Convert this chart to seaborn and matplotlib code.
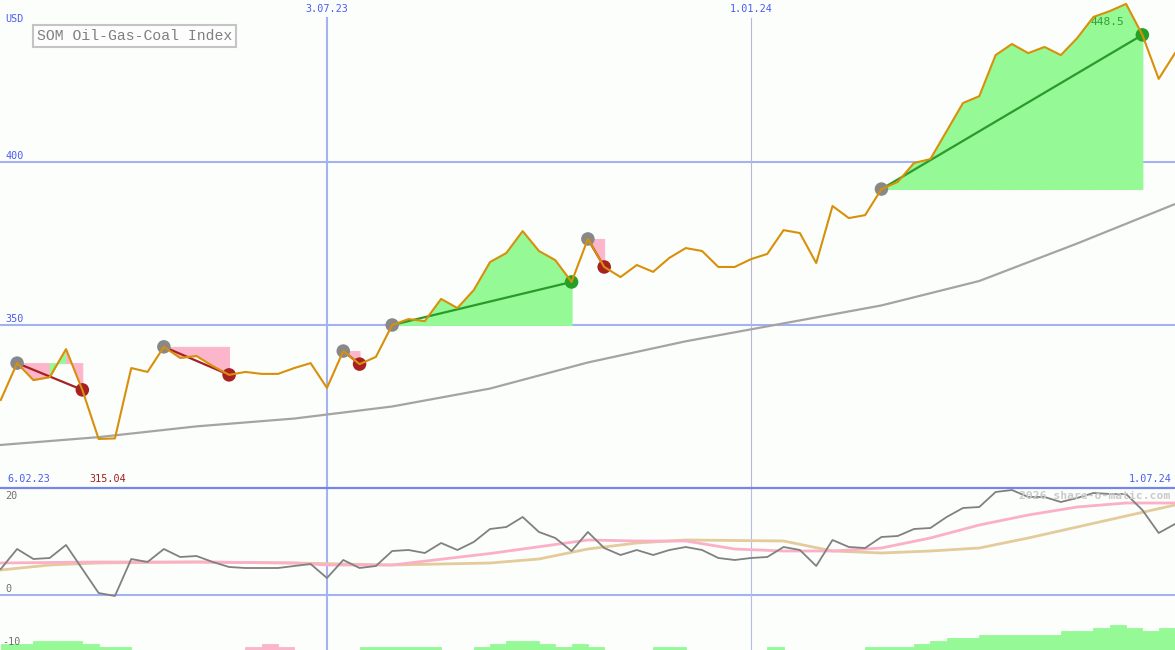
import pandas as pd
import matplotlib
matplotlib.use('Agg')
import matplotlib.pyplot as plt
import seaborn as sns

# weekly closes, 13.02.23 .. 1.07.24
dates = pd.date_range('2023-02-13', periods=73, freq='7D')
price = [327.0, 338.3, 333.1, 334.0, 342.6, 330.1, 315.04, 315.2, 336.8, 335.6,
         343.3, 339.9, 340.5, 337.4, 334.7, 335.6, 335.0, 335.0, 336.8, 338.3,
         330.7, 342.0, 338.0, 340.2, 350.0, 351.8, 351.2, 358.0, 355.2, 360.7,
         369.3, 372.1, 378.8, 372.7, 369.9, 363.2, 376.4, 367.8, 364.7, 368.4,
         366.3, 370.6, 373.6, 372.7, 367.8, 367.8, 370.2, 371.8, 379.1, 378.2,
         369.0, 386.5, 382.8, 383.7, 391.7, 393.9, 399.7, 400.9, 409.5, 418.1,
         420.2, 432.8, 436.2, 433.4, 435.3, 432.8, 438.0, 444.5, 446.3, 448.5,
         439.0, 425.5, 433.4]

# long moving average (read every 6 weeks)
ma_idx = [0, 6, 12, 18, 24, 30, 36, 42, 48, 54, 60, 66, 72]
ma_val = [313.2, 315.6, 318.9, 321.3, 325.0, 330.5, 338.5, 345.0, 350.5, 356.0, 363.5, 375.0, 387.1]

# trades
entry_idx = [1, 10, 21, 24, 36, 54]
exit_idx = [5, 14, 22, 35, 37, 70]

# lower panel
osc = [5.2, 9.2, 7.2, 7.4, 10.0, 5.2, 0.4, -0.2, 7.2, 6.6,
       9.2, 7.6, 7.8, 6.6, 5.6, 5.4, 5.4, 5.4, 5.8, 6.2,
       3.4, 7.0, 5.4, 5.8, 8.8, 9.0, 8.4, 10.4, 9.0, 10.6,
       13.2, 13.6, 15.6, 12.6, 11.4, 8.8, 12.6, 9.4, 8.0, 9.0,
       8.0, 9.0, 9.6, 9.0, 7.4, 7.0, 7.4, 7.6, 9.6, 9.0,
       5.8, 11.0, 9.6, 9.4, 11.6, 11.8, 13.2, 13.4, 15.6, 17.4,
       17.6, 20.6, 21.0, 19.6, 19.6, 18.6, 19.4, 20.4, 20.2, 20.2,
       17.0, 12.4, 14.2]
pink_idx = [0, 6, 12, 18, 20, 24, 30, 36, 39, 42, 45, 48, 51, 54, 57, 60, 63, 66, 69, 72]
pink_val = [6.4, 6.6, 6.6, 6.4, 6.0, 6.0, 8.3, 11.0, 10.8, 10.8, 9.2, 8.8, 8.8, 9.4, 11.4, 14.0, 16.0, 17.6, 18.4, 18.4]
tan_idx = [0, 3, 6, 12, 18, 24, 30, 33, 36, 39, 42, 48, 51, 54, 57, 60, 63, 66, 69, 72]
tan_val = [5.0, 6.0, 6.4, 6.6, 6.4, 6.0, 6.4, 7.2, 9.2, 10.4, 11.0, 10.8, 8.8, 8.4, 8.8, 9.4, 11.4, 13.6, 15.8, 18.0]
hist = [1.2, 1.2, 1.8, 1.8, 1.8, 1.2, 0.6, 0.6,
        0, 0, 0, 0, 0, 0, 0,
        -0.6, -1.2, -0.6,
        0, 0, 0, 0,
        0.6, 0.6, 0.6, 0.6, 0.6,
        0, 0,
        0.6, 1.2, 1.8, 1.8, 1.2, 0.6, 1.2, 0.6,
        0, 0, 0,
        0.6, 0.6,
        0, 0, 0, 0, 0,
        0.6,
        0, 0, 0, 0, 0,
        0.6, 0.6, 0.6, 1.2, 1.8, 2.4, 2.4, 3.0, 3.0, 3.0, 3.0, 3.0,
        3.8, 3.8, 4.4, 5.0, 4.4, 3.8, 4.4]

bg = '#fcfefc'
grid_c = '#a3b2f2'
blue_txt = '#4a5cf0'
mono = 'DejaVu Sans Mono'

df = pd.DataFrame({'date': dates, 'price': price, 'osc': osc})
df_ma = pd.DataFrame({'date': dates[ma_idx], 'ma': ma_val})
df_pink = pd.DataFrame({'date': dates[pink_idx], 'v': pink_val})
df_tan = pd.DataFrame({'date': dates[tan_idx], 'v': tan_val})

fig = plt.figure(figsize=(11.75, 6.5), dpi=100, facecolor=bg)
ax = fig.add_axes([0, 163 / 650, 1, 487 / 650])
ax2 = fig.add_axes([0, 0, 1, 163 / 650])
xlim = (dates[0] - pd.Timedelta(hours=8), dates[-1])
for a in (ax, ax2):
    a.set_facecolor(bg)
    a.set_xlim(xlim)
    for s in a.spines.values():
        s.set_visible(False)
    a.set_xticks([])
    a.set_yticks([])
ax.set_ylim(300.3, 449.7)
ax2.set_ylim(-11.0, 21.6)

# grid
for lvl in (400, 350):
    ax.axhline(lvl, color=grid_c, lw=1.5, zorder=1)
ax2.axhline(0, color=grid_c, lw=1.5, zorder=1)
ax.axvline(pd.Timestamp('2023-07-03'), ymax=1 - 18 / 487, color=grid_c, lw=1.5, zorder=1)
ax.axvline(pd.Timestamp('2024-01-01'), ymax=1 - 18 / 487, color='#b4b8d4', lw=0.8, zorder=1)
ax2.axvline(pd.Timestamp('2023-07-03'), color=grid_c, lw=1.5, zorder=1)
ax2.axvline(pd.Timestamp('2024-01-01'), color='#b4bce8', lw=0.8, zorder=1)
ax2.axhline(21.45, color='#7686e8', lw=1.6, clip_on=False, zorder=5)

# trade fills
for e, x in zip(entry_idx, exit_idx):
    lvl = price[e]
    for j in range(e, x):
        c = '#95f995' if price[j + 1] >= lvl else '#fbb6cb'
        ax.fill_between(dates[j:j + 2], price[j:j + 2], [lvl, lvl], facecolor=c,
                        edgecolor=c, lw=0.7, zorder=2)

sns.lineplot(data=df_ma, x='date', y='ma', ax=ax, color='#a4a4a4', lw=1.6, zorder=3)

# trade lines and dots
for e, x in zip(entry_idx, exit_idx):
    win = price[x] > price[e]
    lc = '#2a9a2a' if win else '#a52222'
    ax.plot([dates[e], dates[x]], [price[e], price[x]], color=lc, lw=1.6, zorder=4)
pts = pd.DataFrame({
    'date': list(dates[entry_idx]) + list(dates[exit_idx]),
    'p': [price[i] for i in entry_idx] + [price[i] for i in exit_idx],
    'kind': ['entry'] * 6 + ['win' if price[x] > price[e] else 'loss' for e, x in zip(entry_idx, exit_idx)],
})
sns.scatterplot(data=pts, x='date', y='p', hue='kind',
                palette={'entry': '#888888', 'win': '#24a024', 'loss': '#a82020'},
                s=95, linewidth=0, ax=ax, legend=False, zorder=5)

ax.text(dates[69] - pd.Timedelta(days=1), 443.0, '448.5', color='#30a030', fontsize=8,
        family=mono, ha='right', va='center', zorder=5)
sns.lineplot(data=df, x='date', y='price', ax=ax, color='#d8900a', lw=1.5, zorder=6)
ax.set_xlabel('')
ax.set_ylabel('')

# lower panel
ax2.bar(dates[:-1], [abs(v) for v in hist], width=pd.Timedelta(days=7), align='edge',
        bottom=-11.0, color=['#95f995' if v >= 0 else '#fbb6cb' for v in hist],
        edgecolor=['#95f995' if v >= 0 else '#fbb6cb' for v in hist], lw=0.6, zorder=2)
fig.text(1019 / 1175, 1 - 496 / 650, '2026 share-o-matic.com', color='#cacaca',
         fontsize=8.2, family=mono, fontweight='bold', va='center', ha='left', zorder=0)
sns.lineplot(data=df_tan, x='date', y='v', ax=ax2, color='#e3cb9c', lw=2.0, zorder=3)
sns.lineplot(data=df_pink, x='date', y='v', ax=ax2, color='#fbb0c8', lw=2.0, zorder=3)
sns.lineplot(data=df, x='date', y='osc', ax=ax2, color='#808080', lw=1.3, zorder=4)
ax2.set_xlabel('')
ax2.set_ylabel('')


def ft(x, y, s, **kw):
    fig.text(x / 1175, 1 - y / 650, s, family=mono, fontsize=7.3, va='center', **kw)


ft(5, 19, 'USD', color=blue_txt)
ft(5, 156, '400', color=blue_txt)
ft(5, 319, '350', color=blue_txt)
ft(327, 9, '3.07.23', color=blue_txt, ha='center')
ft(751, 9, '1.01.24', color=blue_txt, ha='center')
ft(7, 479, '6.02.23', color=blue_txt)
ft(89, 479, '315.04', color='#a02020')
ft(1172, 479, '1.07.24', color=blue_txt, ha='right')
ft(5, 496, '20', color='#707070')
ft(5, 589, '0', color='#707070')
ft(2, 642, '-10', color='#707070')

fig.text(37 / 1175, 1 - 36 / 650, 'SOM Oil-Gas-Coal Index', family='Liberation Mono',
         fontsize=10.6, color='#808080', va='center', ha='left',
         bbox=dict(boxstyle='square,pad=0.25', fc='#fdfdfd', ec='#c4c4c4', lw=1.5))

fig.savefig('out.png', dpi=100, facecolor=bg)
